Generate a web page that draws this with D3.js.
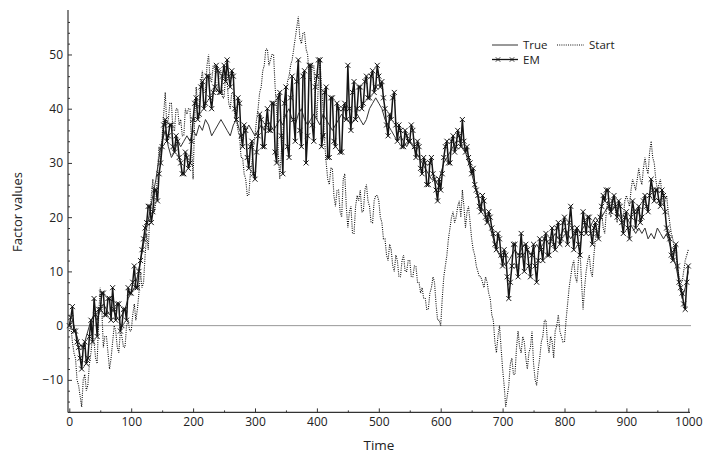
<!DOCTYPE html>
<html>
<head>
<meta charset="utf-8">
<script src="https://cdn.jsdelivr.net/npm/d3@7"></script>
<style>
    body { margin: 0; background: #fff; }
    text { font-family: "Open Sans", "Noto Sans", sans-serif; fill: #222; }
</style>
</head>
<body>
<div class="factor-chart"></div>
<script>
const width = 704,
    height = 455;

// True: one value every 5 time units; Start and EM: every 2.5 (t = 0 .. 1000)
const trueStep = 5;
const denseStep = 2.5;

const trueValues = [
    0, 1, -1, -3, -4, -3, -1, 1, 2, 1,
    3, 4, 3, 2, 3, 2, 1, 2, 3, 5,
    6, 7, 9, 12, 15, 18, 21, 24, 27, 31,
    34, 36, 33, 31, 32, 34, 33, 34, 35, 34,
    36, 35, 37, 36, 38, 37, 35, 36, 37, 38,
    37, 36, 35, 37, 38, 36, 35, 36, 37, 36,
    35, 36, 37, 36, 38, 37, 36, 37, 38, 37,
    39, 40, 38, 37, 39, 40, 38, 37, 38, 39,
    38, 37, 39, 38, 37, 36, 37, 38, 39, 38,
    38, 37, 38, 39, 38, 37, 38, 40, 41, 42,
    41, 40, 38, 37, 36, 35, 34, 35, 34, 33,
    34, 33, 32, 31, 30, 29, 28, 27, 27, 26,
    28, 30, 31, 32, 33, 34, 34, 33, 32, 30,
    28, 26, 24, 22, 21, 20, 18, 16, 14, 13,
    12, 11, 12, 13, 14, 13, 14, 15, 14, 13,
    14, 15, 14, 15, 16, 15, 16, 17, 16, 17,
    18, 17, 16, 17, 18, 17, 18, 19, 18, 19,
    20, 19, 20, 21, 22, 21, 22, 21, 20, 19,
    20, 19, 18, 17, 18, 17, 18, 16, 17, 16,
    18, 17, 16, 17, 15, 13, 11, 8, 5, 7,
    10
];

const startValues = [
    -1, 0, -3, -5, -6, -10, -11, -13, -15, -10, -9, -12, -11, -7, -5, -2, -3, -6, -7, 2,
    7, 3, -4, -2, -2, -5, -8, -6, -3, 0, -1, -4, -5, -1, -2, -4, -4, 0, 1, -1,
    -1, 2, 4, 1, 3, 6, 10, 7, 8, 13, 17, 14, 20, 24, 27, 21, 23, 28, 33, 30,
    35, 39, 43, 37, 38, 41, 41, 36, 36, 40, 40, 37, 38, 35, 35, 40, 39, 40, 40, 33,
    27, 38, 44, 40, 41, 45, 47, 43, 43, 48, 50, 45, 45, 48, 48, 43, 44, 47, 47, 42,
    42, 46, 45, 41, 40, 43, 43, 38, 38, 36, 35, 31, 31, 28, 27, 24, 24, 28, 30, 33,
    35, 38, 40, 43, 44, 47, 48, 51, 51, 48, 49, 50, 50, 44, 40, 32, 27, 32, 35, 40,
    43, 45, 46, 48, 49, 51, 53, 55, 57, 53, 52, 54, 54, 51, 50, 46, 45, 48, 48, 42,
    38, 45, 49, 44, 40, 34, 30, 27, 26, 29, 29, 24, 22, 25, 25, 21, 20, 27, 28, 22,
    18, 21, 22, 17, 17, 22, 24, 23, 25, 21, 21, 25, 26, 23, 22, 19, 19, 23, 24, 24,
    23, 20, 19, 16, 16, 13, 12, 15, 14, 11, 10, 13, 12, 9, 9, 12, 13, 10, 10, 12,
    12, 9, 9, 11, 11, 8, 8, 6, 7, 5, 5, 3, 3, 6, 7, 9, 8, 4, 1, 1,
    0, 5, 9, 11, 13, 16, 18, 20, 21, 19, 20, 22, 23, 20, 25, 22, 18, 21, 22, 19,
    16, 14, 13, 11, 10, 9, 9, 8, 7, 9, 8, 6, 5, 2, 1, -3, -5, -2, 0, -4,
    -8, -11, -15, -13, -11, -7, -6, -9, -9, -4, -1, -4, -5, -2, -3, -6, -8, -5, -4, -1,
    -7, -10, -11, -8, -6, -3, -2, 1, 1, -3, -5, -2, -3, -6, -1, 0, 2, -1, -2, -3,
    -3, 1, 4, 7, 9, 11, 12, 9, 8, 12, 14, 8, 3, 7, 10, 12, 13, 10, 9, 13,
    16, 17, 18, 20, 21, 18, 17, 21, 23, 21, 20, 23, 24, 21, 19, 22, 22, 20, 20, 23,
    24, 23, 22, 25, 27, 26, 25, 27, 29, 27, 26, 29, 31, 29, 28, 32, 34, 31, 30, 27,
    25, 26, 27, 24, 22, 23, 24, 21, 19, 17, 16, 14, 13, 11, 9, 8, 8, 10, 12, 13,
    14
];

const emValues = [
    0, 1.5, 3.5, -1, -1, -3, -4, -6, -8, -4, -3, -7, -6, -2, 1, -3, 5, 2, -2, 3,
    3, 6, 6, 2, 2, 5, 5, 1, 7, 3, 1, 4, 4, -1, 0, 3, 3, 1, 7, 6,
    6, 8, 11, 7, 7, 10, 12, 14, 16, 18, 19, 22, 22, 19, 21, 25, 25, 23, 28, 30,
    33, 37, 38, 34, 35, 37, 37, 33, 32, 35, 34, 31, 30, 28, 28, 32, 31, 29, 30, 34,
    38, 41, 42, 38, 39, 44, 45, 40, 41, 46, 46, 42, 40, 43, 44, 48, 47, 43, 43, 46,
    48, 45, 49, 46, 44, 47, 46, 40, 38, 42, 41, 35, 33, 37, 36, 31, 29, 33, 34, 28,
    27, 32, 35, 39, 38, 33, 33, 37, 40, 36, 36, 41, 41, 32, 30, 42, 43, 35, 28, 41,
    44, 33, 31, 42, 46, 38, 34, 45, 49, 36, 33, 46, 47, 30, 35, 48, 48, 37, 34, 44,
    46, 49, 49, 33, 35, 43, 44, 31, 31, 42, 42, 34, 33, 41, 40, 32, 32, 40, 41, 38,
    48, 40, 36, 43, 45, 38, 40, 44, 44, 40, 41, 45, 46, 42, 42, 46, 47, 43, 44, 48,
    46, 44, 45, 42, 40, 37, 35, 39, 38, 42, 43, 37, 34, 37, 36, 33, 33, 36, 35, 34,
    34, 37, 36, 33, 31, 34, 33, 29, 28, 31, 30, 26, 26, 30, 31, 28, 27, 25, 23, 27,
    25, 28, 31, 33, 34, 30, 30, 34, 35, 32, 33, 36, 35, 33, 38, 34, 32, 33, 31, 30,
    28, 29, 26, 25, 24, 22, 21, 24, 23, 20, 19, 21, 20, 18, 17, 15, 14, 17, 16, 13,
    11, 14, 13, 9, 5, 8, 11, 15, 15, 11, 9, 13, 17, 13, 10, 15, 14, 11, 9, 13,
    15, 11, 8, 12, 16, 14, 12, 16, 17, 13, 13, 16, 18, 15, 14, 18, 19, 15, 16, 19,
    20, 17, 15, 19, 22, 18, 14, 17, 18, 15, 13, 17, 21, 19, 17, 20, 20, 17, 15, 18,
    19, 17, 16, 20, 22, 24, 23, 25, 25, 22, 21, 23, 24, 22, 20, 23, 22, 19, 17, 20,
    21, 18, 16, 20, 23, 21, 18, 21, 22, 19, 20, 23, 24, 22, 21, 24, 27, 25, 23, 25,
    25, 23, 22, 25, 24, 21, 18, 17, 16, 13, 12, 14, 15, 11, 8, 7, 6, 4, 3, 8,
    11
];

const xTicks = [0, 100, 200, 300, 400, 500, 600, 700, 800, 900, 1000];
const yTicks = [-10, 0, 10, 20, 30, 40, 50];
const legendLabels = ["True", "Start", "EM"];

const toPoints = (vals, step) => vals.map((v, i) => ({ t: i * step, v: v }));

const svg = d3.select(".factor-chart")
    .append("svg")
    .attr("width", width)
    .attr("height", height);

const x = d3.scaleLinear()
    .domain([0, 1000])
    .range([69.3, 688.3]);

const y = d3.scaleLinear()
    .domain([-16, 58.2])
    .range([412.4, 10]);

const axisColor = "#333";
const dotted = "1,1.2";

// zero reference line
svg.append("line")
    .attr("x1", 68).attr("x2", 691)
    .attr("y1", y(0)).attr("y2", y(0))
    .attr("stroke", "#999")
    .attr("stroke-width", 1);

const line = d3.line()
    .x(d => x(d.t))
    .y(d => y(d.v));

// Start (dotted)
svg.append("path")
    .datum(toPoints(startValues, denseStep))
    .attr("fill", "none")
    .attr("stroke", "#111")
    .attr("stroke-width", 1.1)
    .attr("stroke-dasharray", dotted)
    .attr("d", line);

// True (solid)
svg.append("path")
    .datum(toPoints(trueValues, trueStep))
    .attr("fill", "none")
    .attr("stroke", "#333")
    .attr("stroke-width", 1)
    .attr("stroke-linejoin", "round")
    .attr("d", line);

// EM (solid + crosses)
const emPoints = toPoints(emValues, denseStep);
svg.append("path")
    .datum(emPoints)
    .attr("fill", "none")
    .attr("stroke", "#151515")
    .attr("stroke-width", 1.5)
    .attr("d", line);

const cross = d3.symbol().type(d3.symbolX).size(18);

svg.selectAll("path.em-mark")
    .data(emPoints)
    .join("path")
    .attr("class", "em-mark")
    .attr("transform", d => `translate(${x(d.t)}, ${y(d.v)})`)
    .attr("d", cross)
    .attr("fill", "none")
    .attr("stroke", "#151515")
    .attr("stroke-width", 1);

// axes, ticks point inward
const xAxis = d3.axisBottom(x)
    .tickValues(xTicks)
    .tickSize(-4)
    .tickSizeOuter(0)
    .tickPadding(5)
    .tickFormat(d3.format("d"));

const xMinor = d3.axisBottom(x)
    .tickValues(d3.range(50, 1000, 100))
    .tickSize(-2)
    .tickSizeOuter(0)
    .tickFormat("");

const yAxis = d3.axisLeft(y)
    .tickValues(yTicks)
    .tickSize(-4)
    .tickSizeOuter(0)
    .tickPadding(5)
    .tickFormat(d => d < 0 ? "\u2212" + Math.abs(d) : d);

const yMinor = d3.axisLeft(y)
    .tickValues(d3.range(-14, 58, 2).filter(d => d % 10 !== 0))
    .tickSize(-2)
    .tickSizeOuter(0)
    .tickFormat("");

svg.append("g")
    .attr("transform", `translate(0, ${412.4})`)
    .call(xAxis);
svg.append("g")
    .attr("transform", `translate(0, ${412.4})`)
    .call(xMinor);

svg.append("g")
    .attr("transform", `translate(${68}, 0)`)
    .call(yAxis);
svg.append("g")
    .attr("transform", `translate(${68}, 0)`)
    .call(yMinor);

svg.selectAll(".domain").remove();
svg.selectAll(".tick line").attr("stroke", axisColor);
svg.selectAll(".tick text")
    .attr("font-size", 12)
    .attr("fill", "#222")
    .style("font-family", "'Open Sans', sans-serif");

// axis lines
svg.append("line")
    .attr("x1", 68).attr("x2", 690)
    .attr("y1", 412.4).attr("y2", 412.4)
    .attr("stroke", axisColor)
    .attr("stroke-width", 1.2);
svg.append("line")
    .attr("x1", 68).attr("x2", 68)
    .attr("y1", 10).attr("y2", 412.4)
    .attr("stroke", axisColor)
    .attr("stroke-width", 1.2);

// axis titles
svg.append("text")
    .text("Time")
    .attr("x", 379)
    .attr("y", 450)
    .attr("text-anchor", "middle")
    .attr("font-size", 13.5);

svg.append("text")
    .text("Factor values")
    .attr("transform", `translate(${22}, ${212}) rotate(-90)`)
    .attr("text-anchor", "middle")
    .attr("font-size", 13);

// legend
const legend = svg.append("g");

legend.append("line")
    .attr("x1", 492).attr("x2", 518)
    .attr("y1", 45).attr("y2", 45)
    .attr("stroke", "#333").attr("stroke-width", 1);
legend.append("text")
    .text(legendLabels[0])
    .attr("x", 523).attr("y", 49)
    .attr("font-size", 11.5);

legend.append("line")
    .attr("x1", 557).attr("x2", 584)
    .attr("y1", 45).attr("y2", 45)
    .attr("stroke", "#111").attr("stroke-width", 1.1)
    .attr("stroke-dasharray", dotted);
legend.append("text")
    .text(legendLabels[1])
    .attr("x", 589).attr("y", 49)
    .attr("font-size", 11.5);

legend.append("line")
    .attr("x1", 492).attr("x2", 518)
    .attr("y1", 59.5).attr("y2", 59.5)
    .attr("stroke", "#151515").attr("stroke-width", 1.3);
legend.selectAll("path.leg-mark")
    .data([498, 512])
    .join("path")
    .attr("class", "leg-mark")
    .attr("transform", d => `translate(${d}, ${59.5})`)
    .attr("d", d3.symbol().type(d3.symbolX).size(14))
    .attr("fill", "none")
    .attr("stroke", "#151515")
    .attr("stroke-width", 0.9);
legend.append("text")
    .text(legendLabels[2])
    .attr("x", 523).attr("y", 64)
    .attr("font-size", 11.5);
</script>
</body>
</html>
